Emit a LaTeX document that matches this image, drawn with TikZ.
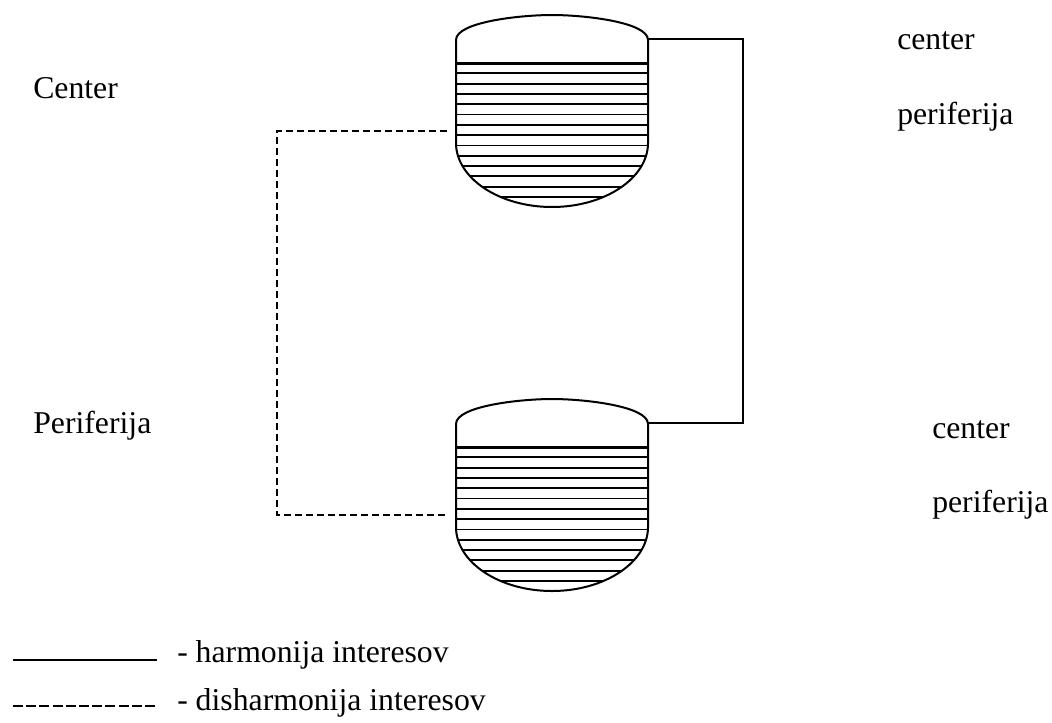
\documentclass[tikz,border=0pt]{standalone}
\usepackage{fontspec}
\setmainfont{Liberation Serif}
\usepackage{tikz}

\begin{document}
\begin{tikzpicture}[x=0.75pt,y=0.75pt,yscale=-1,xscale=1,
  lbl/.style={anchor=base west,inner sep=0pt,font=\fontsize{23.8}{28}\selectfont}]
\useasboundingbox (0,0) rectangle (1052,722);
        % vessels
        \foreach \dy/\nm in {0/up,384/low}{
          \begin{scope}[shift={(0,\dy)}]
            \begin{scope}
              \clip (456,63) -- (648,63) -- (648,143) .. controls (648,178) and (605,207) .. (552,207) .. controls (499,207) and (456,178) .. (456,143) -- cycle;
              \foreach \k in {1,...,13}
                \draw [line width=1.35pt]   (450,63+10.3*\k) -- (655,63+10.3*\k) ;
            \end{scope}
            \draw [line width=2.25pt]   (456,63) -- (648,63) ;
            \draw [line width=1.5pt]   (456,143) -- (456,40) .. controls (456,22) and (520,15) .. (552,15) .. controls (584,15) and (648,22) .. (648,40) -- (648,143) .. controls (648,178) and (605,207) .. (552,207) .. controls (499,207) and (456,178) .. (456,143) -- cycle ;
            \coordinate (\nm R) at (648,39);
            \coordinate (\nm L) at (447,131);
          \end{scope}
        }
        \draw [line width=1pt]   (upR) -- ++(95,0) |- (lowR) ;
        \draw [line width=1pt,dash pattern=on 5.25pt off 3pt]   (upL) -- ++(-170,0) |- (lowL) ;

        \node [lbl] (cen) at (33,98) {Center};
        \node [lbl] (per) at (33,433) {Periferija};
        \node [lbl] (ucen) at (897,49) {center};
        \node [lbl] (uper) at (897,124) {periferija};
        \node [lbl] (lcen) at (932,438) {center};
        \node [lbl] (lper) at (932,512) {periferija};

        % legend
        \coordinate (hs) at (13,660);
        \coordinate (ds) at (13,706);
        \draw [line width=1.1pt]   (hs) -- ++(144,0) ;
        \draw [line width=1.1pt,dash pattern=on 7.5pt off 2.4pt]   (ds) -- ++(144,0) ;
        \node [lbl] (harm) at (177,662) {- harmonija interesov};
        \node [lbl] (dish) at (177,710) {- disharmonija interesov};
\end{tikzpicture}
\end{document}
